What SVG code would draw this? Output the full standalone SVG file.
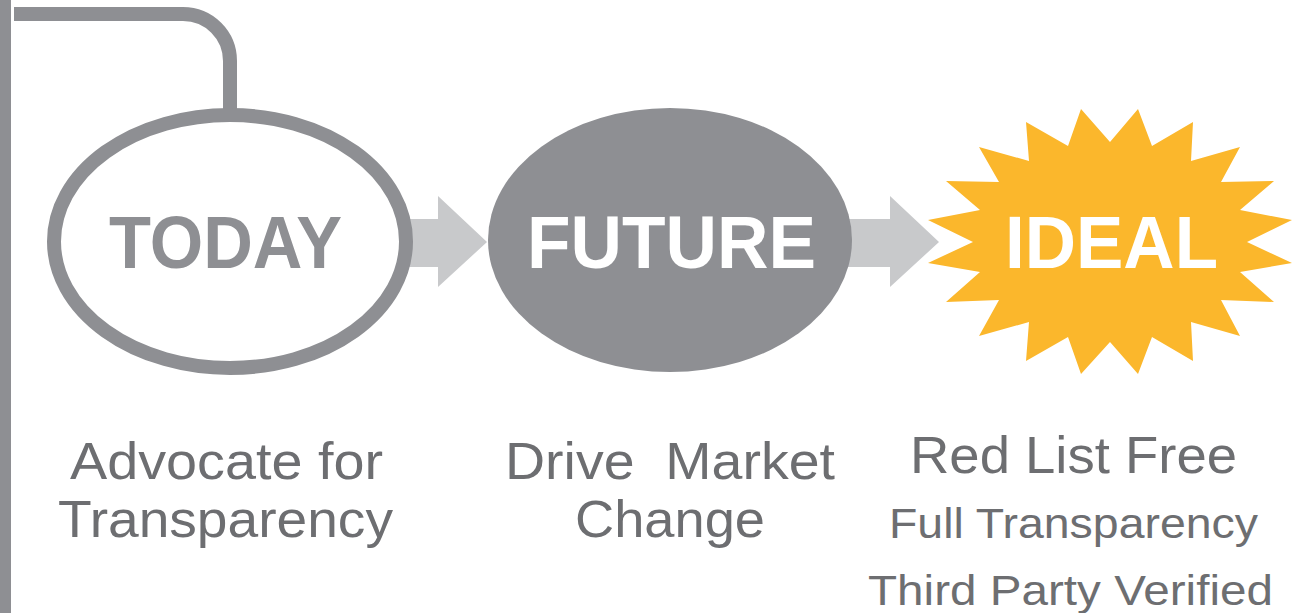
<svg xmlns="http://www.w3.org/2000/svg" width="1299" height="613" viewBox="0 0 1299 613">
<style>
.line{fill:none;stroke:#8e8f93;stroke-width:14}
.arrow{fill:#c8c9cb}
.title{font-family:"Liberation Sans",Arial,sans-serif;font-weight:bold;font-size:75px}
.label{font-family:"Liberation Sans",Arial,sans-serif;font-size:52px;fill:#6d6e71}
.small{font-family:"Liberation Sans",Arial,sans-serif;font-size:42px;fill:#6d6e71}
</style>
<rect width="1299" height="613" fill="#ffffff"/>
<g id="connectors">
<rect x="0" y="0" width="11" height="613" fill="#8e8f93"/>
<path class="line" d="M14,14 H183 A47,47 0 0 1 230,61 V112"/>
<polygon class="arrow" points="380,219 438,219 438,196 487,242 438,287 438,267 380,267"/>
<polygon class="arrow" points="830,219 890,219 890,196 939,242 890,287 890,267 830,267"/>
</g>
<g id="today">
<ellipse cx="230" cy="241.5" rx="176" ry="126.5" fill="#ffffff" stroke="#8e8f93" stroke-width="14"/>
<text class="title" x="109" y="268" fill="#8e8f93" textLength="233" lengthAdjust="spacingAndGlyphs">TODAY</text>
</g>
<g id="future">
<ellipse cx="670" cy="240" rx="182" ry="132" fill="#8e8f93"/>
<text class="title" x="527" y="268" fill="#ffffff" textLength="289" lengthAdjust="spacingAndGlyphs">FUTURE</text>
</g>
<g id="ideal">
<polygon fill="#fbb72c" points="1110,142 1138,109 1152,146 1193,122 1191,161 1240,147 1221,182 1274,181 1240,210 1292,220 1247,242 1292,263 1240,272 1274,302 1221,300 1240,336 1191,322 1193,361 1152,337 1138,374 1110,342 1081,374 1068,337 1026,361 1029,322 979,336 999,300 946,302 980,272 928,263 973,242 928,220 980,210 946,181 999,182 979,147 1029,161 1026,122 1068,146 1081,109"/>
<text class="title" x="1005" y="268" fill="#ffffff" textLength="213" lengthAdjust="spacingAndGlyphs">IDEAL</text>
</g>
<g id="today-label">
<text class="label" x="70" y="479" textLength="313" lengthAdjust="spacingAndGlyphs">Advocate for</text>
<text class="label" x="58" y="537" textLength="335" lengthAdjust="spacingAndGlyphs">Transparency</text>
</g>
<g id="future-label">
<text class="label" x="505" y="479" textLength="330" lengthAdjust="spacingAndGlyphs" xml:space="preserve">Drive  Market</text>
<text class="label" x="575" y="537" textLength="190" lengthAdjust="spacingAndGlyphs">Change</text>
</g>
<g id="ideal-label">
<text class="label" x="910" y="473" font-size="55" textLength="327" lengthAdjust="spacingAndGlyphs">Red List Free</text>
<text class="small" x="889" y="538" textLength="369" lengthAdjust="spacingAndGlyphs">Full Transparency</text>
<text class="small" x="868" y="605" textLength="405" lengthAdjust="spacingAndGlyphs">Third Party Verified</text>
</g>
</svg>
